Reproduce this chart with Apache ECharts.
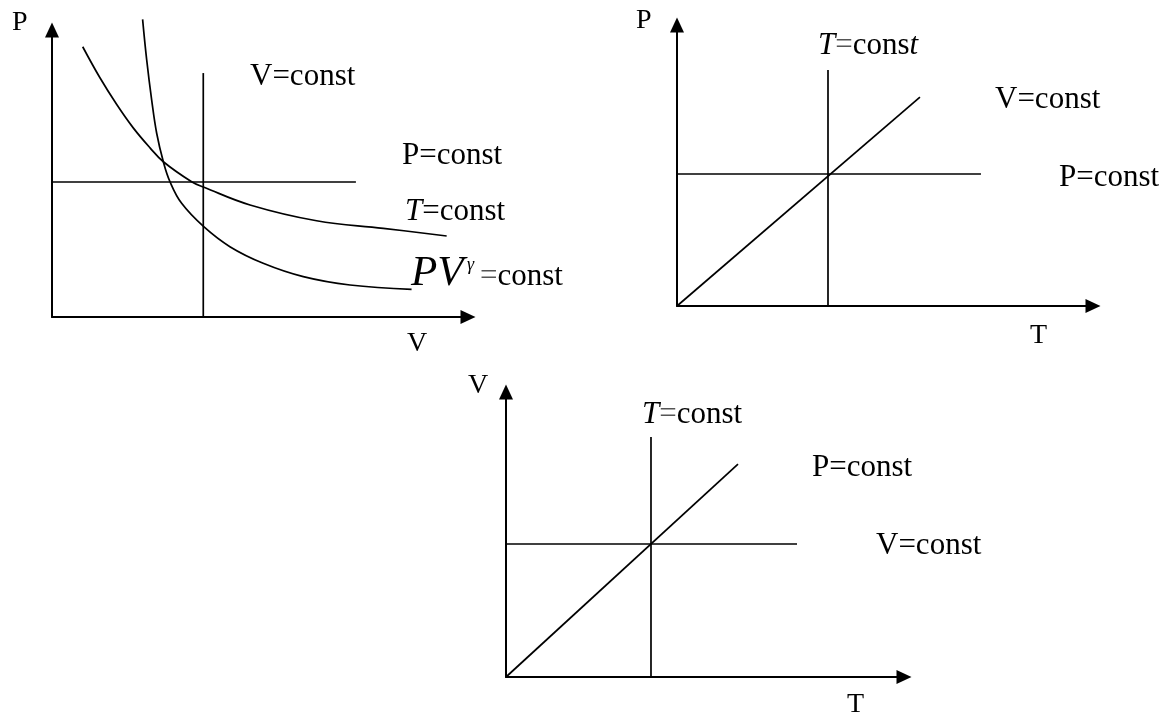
<!DOCTYPE html>
<html><head><meta charset="utf-8">
<script src="https://cdn.jsdelivr.net/npm/echarts@6/dist/echarts.min.js"></script>
<style>html,body{margin:0;padding:0;background:#fff}#c{width:1172px;height:718px}</style>
</head><body><div id="c"></div><script>
// ---- Panel 1: P–V diagram (units: the V=const line is V=1, the P=const line is P=1)
const pvIsotherm = [[0.203,2.002],[0.317,1.772],[0.428,1.574],[0.537,1.401],[0.648,1.253],[0.736,1.150],[0.923,1.002],[1.005,0.961],[1.309,0.830],[1.749,0.713],[2.190,0.657],[2.609,0.600]];
const pvAdiabat = [[0.599,2.205],[0.626,1.904],[0.659,1.607],[0.692,1.361],[0.736,1.150],[0.780,1.002],[0.857,0.842],[1.005,0.667],[1.176,0.521],[1.396,0.398],[1.661,0.299],[1.970,0.237],[2.377,0.205]];
const pvIsobar = [[0,1],[2.009,1]];
const pvIsochore = [[1,0],[1,1.807]];
// ---- Panel 2: P–T diagram
const ptIsochore = [[0,0],[1.609,1.583]];
const ptIsobar = [[0,1],[2.013,1]];
const ptIsotherm = [[1,0],[1,1.788]];
// ---- Panel 3: V–T diagram
const vtIsobar = [[0,0],[1.6,1.601]];
const vtIsochore = [[0,1],[2.007,1]];
const vtIsotherm = [[1,0],[1,1.805]];
// axis extents (data units) per panel
const xMax = [2.75, 2.755, 2.745];
const yMax = [2.126, 2.129, 2.143];

const FONT = '"Liberation Serif","Times New Roman",serif';
const FS = 31;
const chart = echarts.init(document.getElementById('c'), null, {renderer:'canvas'});

function ax(gi, max){
  return {type:'value', gridIndex:gi, min:0, max:max,
    axisLine:{show:true, onZero:false, symbol:['none','triangle'], symbolSize:[14,15], lineStyle:{color:'#000', width:2}},
    axisTick:{show:false}, axisLabel:{show:false}, splitLine:{show:false}};
}
function ln(gi, data, smooth){
  return {type:'line', xAxisIndex:gi, yAxisIndex:gi, data:data, showSymbol:false, symbol:'none',
    smooth:smooth||false, clip:false, silent:true, lineStyle:{color:'#000', width:1.7}};
}
function txt(x, y, text, size, extra){
  const s = size||FS;
  const style = Object.assign({text:text, x:x, y:y, fill:'#000', fontSize:s, fontFamily:FONT,
    align:'left', verticalAlign:'middle',
    rich:{i:{fontStyle:'italic', fontSize:s, fontFamily:FONT, fill:'#000'},
          g:{fontSize:s, fontFamily:FONT, fill:'#555'},
          n:{fontSize:s, fontFamily:FONT, fill:'#000'}}}, extra||{});
  return {type:'text', silent:true, style:style};
}

chart.setOption({
  animation:false,
  backgroundColor:'#fff',
  grid:[
    {left:52, top:30, width:416, height:287},
    {left:677, top:25, width:416, height:281},
    {left:506, top:392, width:398, height:285}
  ],
  xAxis:[ax(0,xMax[0]), ax(1,xMax[1]), ax(2,xMax[2])],
  yAxis:[ax(0,yMax[0]), ax(1,yMax[1]), ax(2,yMax[2])],
  series:[
    ln(0,pvIsotherm,0.4), ln(0,pvAdiabat,0.4), ln(0,pvIsobar), ln(0,pvIsochore),
    ln(1,ptIsochore), ln(1,ptIsobar), ln(1,ptIsotherm),
    ln(2,vtIsobar), ln(2,vtIsochore), ln(2,vtIsotherm)
  ],
  graphic:[
    // panel 1
    txt(12,23,'P',28),
    txt(250,77,'V=const'),
    txt(402,156,'P=const'),
    txt(405,212,'{i|T}{n|=const}'),
    txt(411,274,'PV',43,{fontStyle:'italic'}),
    txt(467,265,'γ',18,{fontStyle:'italic'}),
    txt(480,277,'{g|=}{n|const}'),
    txt(407,344,'V',28),
    // panel 2
    txt(636,21,'P',28),
    txt(818,46,'{i|T}{g|=}{n|cons}{i|t}'),
    txt(995,100,'V=const'),
    txt(1059,178,'P=const'),
    txt(1030,336,'T',28),
    // panel 3
    txt(468,386,'V',28),
    txt(642,415,'{i|T}{g|=}{n|const}'),
    txt(812,468,'P=const'),
    txt(876,546,'V=const'),
    txt(847,705,'T',28)
  ]
});
</script></body></html>
